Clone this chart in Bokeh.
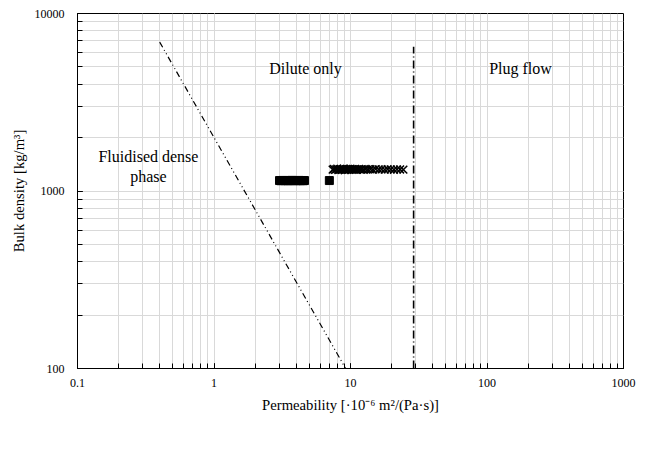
from bokeh.plotting import figure
from bokeh.models import Legend, LegendItem, CustomJSTickFormatter, Title
from bokeh.core.properties import value
from bokeh.embed import file_html
from bokeh.resources import INLINE

# ---- data ----
gp_perm = [7.4, 7.55, 7.7, 7.85, 8.0, 8.15, 8.3, 8.45, 8.6, 8.75, 8.9, 9.05, 9.2, 9.35,
           9.5, 9.65, 9.8, 10.0, 10.2, 10.4, 10.6, 10.8, 11.0, 11.2, 11.5, 11.8, 12.1,
           12.5, 12.9, 13.4, 14.0, 14.6, 15.3, 16.1, 16.9, 17.8, 18.7, 19.7, 20.8,
           21.9, 23.1, 24.4]
gp_dens = [1320, 1330, 1315, 1325, 1335, 1310, 1322, 1330, 1318, 1326, 1334, 1312,
           1324, 1330, 1316, 1328, 1320, 1334, 1314, 1326, 1322, 1330, 1318, 1324,
           1328, 1320, 1326, 1318, 1330, 1322, 1326, 1320, 1328, 1322, 1324, 1320,
           1326, 1322, 1318, 1324, 1322, 1320]
fine_perm = [3.02, 3.1, 3.2, 3.3, 3.4, 3.5, 3.6, 3.7, 3.8, 3.9, 4.0, 4.1, 4.2, 4.3,
             4.4, 4.5, 4.6, 7.0]
fine_dens = [1145, 1143, 1147, 1144, 1146, 1142, 1145, 1148, 1144, 1146, 1143, 1145,
             1147, 1144, 1146, 1143, 1145, 1145]

dense_bound_x = [0.40, 9.2]
dense_bound_y = [6900, 100]
plug_bound_x = [29, 29]
plug_bound_y = [100, 6500]

label_text = ["Fluidised dense", "phase", "Dilute only", "Plug flow"]
label_x = [0.331, 0.331, 4.68, 176]
label_y = [1563, 1208, 4900, 4900]

x_title = "Permeability [·10⁻⁶ m²/(Pa·s)]"
y_title = "Bulk density [kg/m³]"
legend_labels = ["Ground phosphate", "Ground phosphate < 200 µm"]

FONT = "Liberation Serif"
GRID = "#d9d9d9"

p = figure(frame_width=546, frame_height=355, x_axis_type="log", y_axis_type="log",
           x_range=(0.1, 1000), y_range=(100, 10000),
           output_backend="svg", toolbar_location=None,
           min_border_left=77, min_border_right=19, min_border_top=13, min_border_bottom=0)

p.outline_line_color = "black"
p.outline_line_width = 1
p.background_fill_color = "white"
p.border_fill_color = "white"

for g in (p.xgrid, p.ygrid):
    g.grid_line_color = GRID
    g.minor_grid_line_color = GRID
    g.grid_line_width = 1
    g.minor_grid_line_width = 1

fmt = CustomJSTickFormatter(code="return String(parseFloat(tick.toPrecision(3)));")
for ax in (p.xaxis[0], p.yaxis[0]):
    ax.formatter = fmt
    ax.axis_line_color = "black"
    ax.major_tick_line_color = "black"
    ax.minor_tick_line_color = "black"
    ax.major_tick_in = 5
    ax.major_tick_out = 0
    ax.minor_tick_in = 5
    ax.minor_tick_out = 0
    ax.major_label_text_font = FONT
    ax.major_label_text_font_size = "12px"
    ax.major_label_text_color = "black"
    ax.axis_label_text_font = FONT
    ax.axis_label_text_font_size = "14.7px"
    ax.axis_label_text_font_style = "normal"
    ax.axis_label_text_color = "black"

p.xaxis.axis_label = x_title
p.yaxis.axis_label = y_title
p.xaxis.major_label_standoff = 10
p.yaxis.major_label_standoff = 13
p.xaxis.axis_label_standoff = 7
p.yaxis.axis_label_standoff = 5

p.line(dense_bound_x, dense_bound_y, line_color="black", line_width=1.2, line_dash="6 3 1 3 1 3")
p.line(plug_bound_x, plug_bound_y, line_color="black", line_width=1.6, line_dash="8 3 1 3")

r1 = p.scatter(gp_perm, gp_dens, marker="x", size=11, line_color="black", line_width=1.5)
r2 = p.scatter(fine_perm, fine_dens, marker="square", size=8, line_color="black", fill_color="black")

p.text(x=label_x, y=label_y, text=label_text, text_font=value(FONT), text_font_size="16px",
       text_align="center", text_baseline="middle", text_color="black")

# spacer between axis title and legend
spacer = Title(text=" ", text_font_size="12px", standoff=0, text_color="white")
p.add_layout(spacer, "below")

legend = Legend(items=[LegendItem(label=legend_labels[0], renderers=[r1]),
                       LegendItem(label=legend_labels[1], renderers=[r2])],
                orientation="horizontal", location=(94, 0),
                border_line_color=None, background_fill_alpha=0,
                padding=0, margin=0, glyph_width=22, glyph_height=20,
                label_standoff=-4, spacing=14,
                label_text_font=FONT, label_text_font_size="13.3px")
p.add_layout(legend, "below")

open("out.html", "w").write(file_html(p, INLINE))
